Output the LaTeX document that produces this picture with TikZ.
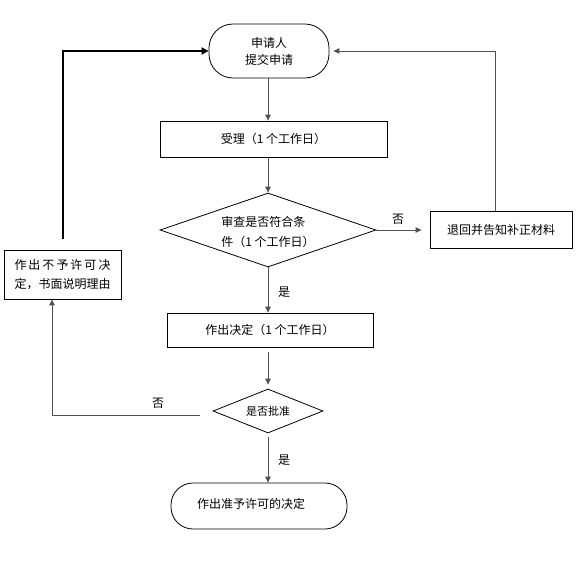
\documentclass[tikz,border=0pt]{standalone}
\usepackage{fontspec}
\setmainfont{Noto Sans CJK SC}
\usetikzlibrary{arrows.meta,shapes.geometric}
\begin{document}
\begin{tikzpicture}[x=1pt,y=-1pt,
  box/.style={draw=black,line width=0.8pt,inner sep=0pt,font=\fontsize{12}{17}\selectfont,align=center},
  txt/.style={inner sep=0pt,font=\fontsize{12}{17}\selectfont,align=center},
  conn/.style={draw=black!68,line width=1pt,-{Triangle[length=6pt,width=5.5pt]}},
  thickconn/.style={draw=black,line width=2pt,-{Triangle[length=7pt,width=7pt]}},
  lbl/.style={inner sep=0pt,font=\fontsize{12}{14}\selectfont}]
\fill[white] (0,0) rectangle (583,568);
\useasboundingbox (0,0) rectangle (583,568);

% nodes
\node[box,rounded corners=24pt,minimum width=120pt,minimum height=54pt] (t1) at (269,51) {申请人\\提交申请};
\node[box,minimum width=227pt,minimum height=36pt] (a) at (273.5,139) {受理（1 个工作日）};
\node[box,diamond,minimum width=216pt,minimum height=74pt] (d1) at (268,230) {};
\node[txt,align=left,font=\fontsize{12}{20}\selectfont] (d1t) at (268,232) {审查是否符合条\\件（1 个工作日）};
\node[box,minimum width=142pt,minimum height=37pt] (r) at (501,229.5) {退回并告知补正材料};
\node[box,minimum width=117pt,minimum height=49pt,font=\fontsize{12}{19}\selectfont] (L) at (62.5,274.5)
  {\makebox[96pt]{作\hfill 出\hfill 不\hfill 予\hfill 许\hfill 可\hfill 决}\\定，书面说明理由};
\node[box,minimum width=206pt,minimum height=34pt] (b) at (270,330) {作出决定（1 个工作日）};
\node[box,diamond,minimum width=110pt,minimum height=44pt] (d2) at (268,411) {};
\node[txt,font=\fontsize{11}{13}\selectfont] (d2t) at (268,411) {是否批准};
\node[box,rounded corners=22pt,minimum width=176pt,minimum height=46pt] (t2) at (259,506) {};
\node[txt] (t2t) at (251,504) {作出准予许可的决定};

% labels
\node[lbl] (no1) at (398,219) {否};
\node[lbl] (yes1) at (284,292) {是};
\node[lbl] (no2) at (158,403) {否};
\node[lbl] (yes2) at (284,460) {是};

% connectors
\draw[conn] (t1.south -| d1.north) -- (a.north -| d1.north);
\draw[conn] (a.south -| d1.north) -- (d1.north);
\draw[conn,shorten >=8pt] (d1.east) -- (r.west |- d1.east);
\draw[conn,shorten >=4pt] ([xshift=-6pt]r.north) |- (t1.east);
\draw[thickconn] ([yshift=11pt]L.north) |- (t1.west);
\draw[conn] (d1.south) -- (d1.south |- b.north);
\draw[conn,shorten <=5pt,shorten >=4pt] (b.south -| d2.north) -- (d2.north);
\draw[conn] ([xshift=-13pt,yshift=-4pt]d2.west) -| ([xshift=-10.5pt]L.south);
\draw[conn,shorten <=4pt] (d2.south) -- (d2.south |- t2.north);
\end{tikzpicture}
\end{document}
